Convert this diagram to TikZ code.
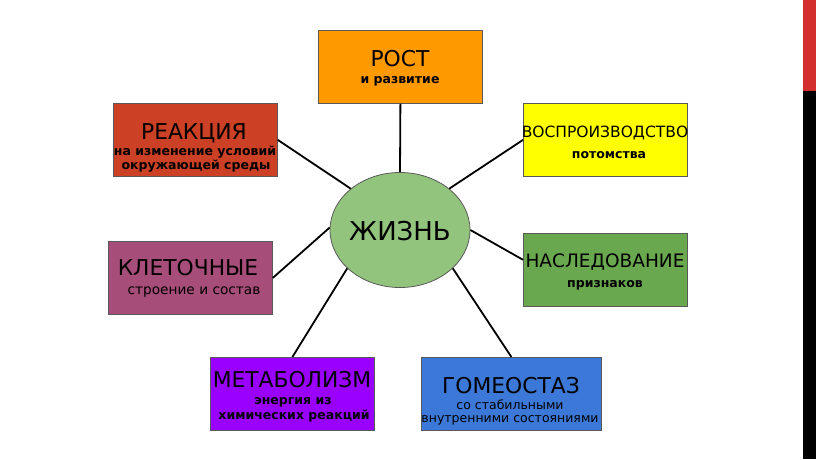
\documentclass[tikz,border=0pt]{standalone}
\usepackage{fontspec}
\setmainfont{DejaVu Sans}
\usetikzlibrary{shapes.geometric}
\definecolor{cOrange}{HTML}{FF9900}
\definecolor{cRed}{HTML}{CC4125}
\definecolor{cYellow}{HTML}{FFFF00}
\definecolor{cPlum}{HTML}{A64D79}
\definecolor{cGreen}{HTML}{6AA84F}
\definecolor{cPurple}{HTML}{9900FF}
\definecolor{cBlue}{HTML}{3C78D8}
\definecolor{cLife}{HTML}{93C47D}
\definecolor{cStripRed}{HTML}{D32F2F}
\newcommand{\ttlfont}{\fontsize{21.8}{26}\selectfont}
\newcommand{\subfont}{\fontsize{12.5}{15}\selectfont}
\begin{document}
\begin{tikzpicture}[x=1pt,y=-1pt,
  box/.style={draw=black!65,line width=0.8pt,minimum width=164pt,minimum height=73pt,inner sep=0pt,anchor=north west},
  ttl/.style={inner sep=0pt,font=\ttlfont},
  sub/.style={inner sep=0pt,font=\subfont},
  subb/.style={inner sep=0pt,font=\subfont\bfseries},
  link/.style={line width=1.8pt,black}]
\useasboundingbox (0,0) rectangle (816,459);
\fill[white] (0,0) rectangle (816,459);
% right strip
\fill[cStripRed] (803,0) rectangle (816,91);
\fill[black] (803,91) rectangle (816,459);
% boxes
\node[box,fill=cOrange] (grow) at (318,30) {};
\node[box,fill=cRed] (react) at (113,103) {};
\node[box,fill=cYellow] (repro) at (523,103) {};
\node[box,fill=cPlum] (cell) at (108,241) {};
\node[box,fill=cGreen] (hered) at (523,233) {};
\node[box,fill=cPurple] (metab) at (210,357) {};
\node[box,fill=cBlue,minimum width=180pt] (homeo) at (421,357) {};
% central ellipse
\node[ellipse,draw=black!65,line width=0.8pt,fill=cLife,minimum width=140pt,minimum height=115pt,inner sep=0pt] (life) at (400,230) {};
\node[inner sep=0pt,font=\fontsize{26}{30}\selectfont] (lifet) at (400,231) {ЖИЗНЬ};
% connectors
\draw[link] (grow.south) -- (life.north);
\draw[link] (react.east) -- (life.140);
\draw[link] (repro.west) -- (life.40);
\draw[link] (cell.east) -- (life.178);
\draw[link] (hered.173) -- (life.east);
\draw[link] (metab.north) -- (life.216);
\draw[link] (homeo.north) -- (life.324);
% texts
\node[ttl] (t1) at (400,59) {РОСТ};
\node[subb] (s1) at (400,81) {и развитие};
\node[ttl] (t2) at (194,133) {РЕАКЦИЯ};
\node[subb] (s2a) at (195,152) {на изменение условий};
\node[subb] (s2b) at (196,166) {окружающей среды};
\node[ttl,font=\fontsize{15.5}{18}\selectfont] (t3) at (605,133) {ВОСПРОИЗВОДСТВО};
\node[subb] (s3) at (609,155) {потомства};
\node[ttl] (t4) at (188,268) {КЛЕТОЧНЫЕ};
\node[sub,font=\fontsize{13.7}{16}\selectfont] (s4) at (194,292) {строение и состав};
\node[ttl,font=\fontsize{18.5}{22}\selectfont] (t5) at (605,262) {НАСЛЕДОВАНИЕ};
\node[subb] (s5) at (605,285) {признаков};
\node[ttl] (t6) at (292,380) {МЕТАБОЛИЗМ};
\node[subb] (s6a) at (293,402) {энергия из};
\node[subb] (s6b) at (294,416) {химических реакций};
\node[ttl] (t7) at (511,386) {ГОМЕОСТАЗ};
\node[sub] (s7a) at (510,405) {со стабильными};
\node[sub] (s7b) at (510,420) {внутренними состояниями};
\end{tikzpicture}
\end{document}
